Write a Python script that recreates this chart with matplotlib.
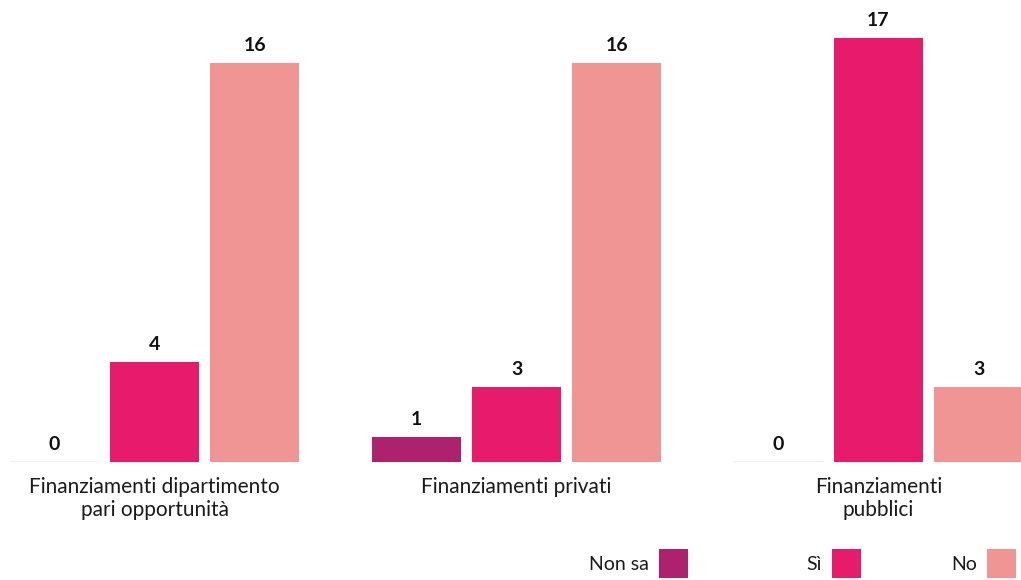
import matplotlib
matplotlib.use("Agg")
import matplotlib.pyplot as plt
from matplotlib.patches import Rectangle
import numpy as np

categories = ["Finanziamenti dipartimento\npari opportunità",
              "Finanziamenti privati",
              "Finanziamenti\npubblici"]
series_names = ["Non sa", "Sì", "No"]
non_sa = [0, 1, 0]
si = [4, 3, 17]
no = [16, 16, 3]
colors = ["#AD216E", "#E81A6B", "#F19494"]

plt.rcParams['font.family'] = ['Lato', 'DejaVu Sans']

W, H = 1021, 580
fig = plt.figure(figsize=(W / 100, H / 100), dpi=100)
ax = fig.add_axes([0, 118 / H, 1, 462 / H])

x = np.arange(len(categories))
step = 0.2765
width = 0.246
values = [non_sa, si, no]
for k, (vals, col) in enumerate(zip(values, colors)):
    pos = x + (k - 1) * step
    ax.bar(pos, vals, width=width, color=col, edgecolor="none")
    for px, v in zip(pos, vals):
        if v == 0:
            ax.plot([px - width / 2, px + width / 2], [0, 0], color="#f2eef0",
                    lw=1.2, solid_capstyle="butt")
        ax.annotate(str(v), (px, v), xytext=(0, 6.5), textcoords="offset points",
                    ha="center", va="bottom", fontsize=14, fontweight="bold",
                    color="#111111")

ax.set_xlim(-0.4268, 2.3936)
ax.set_ylim(0, 18.52)
ax.set_xticks(x)
ax.set_xticklabels(categories, fontsize=15, color="#1a1a1a", linespacing=1.18)
ax.tick_params(axis="x", length=0, pad=11)
ax.set_yticks([])
for s in ax.spines.values():
    s.set_visible(False)

# legend: label text followed by a colour square
legend_items = [(659, "Non sa"), (832, "Sì"), (987, "No")]
sq = 29
for (left, name), col in zip(legend_items, colors):
    fig.patches.append(Rectangle((left / W, (H - 578) / H), sq / W, sq / H,
                                 transform=fig.transFigure, facecolor=col,
                                 edgecolor="none"))
    fig.text((left - 10) / W, (H - 564) / H, name, ha="right", va="center",
             fontsize=14, color="#1a1a1a")

fig.savefig("out.png", dpi=100)
